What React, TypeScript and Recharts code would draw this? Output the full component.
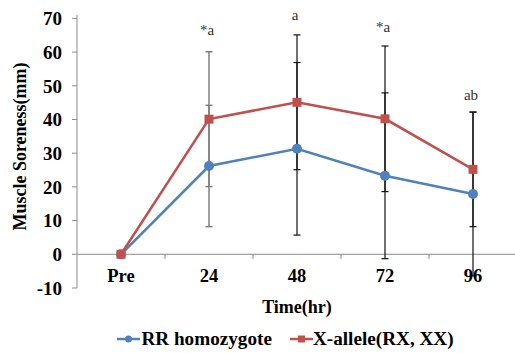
import React from "react";
import {
  LineChart,
  Line,
  XAxis,
  YAxis,
  ErrorBar,
  ReferenceLine,
  Legend,
  LabelList,
} from "recharts";

const categories = ["Pre", "24", "48", "72", "96"];
const rrValues = [0, 26.2, 31.3, 23.3, 17.9];
const xaValues = [0, 40.1, 45.1, 40.2, 25.2];
const rrErrors = [0, 18, 25.6, 24.6, 24.3];
const xaErrors = [0, 20, 20, 21.6, 17];
const grayErrorIndex = [false, true, false, false, false];
const annotations = ["", "*a", "a", "*a", "ab"];
const annotationLevels = [null, 66.6, 71, 67.4, 47.4];
const yTicks = [-10, 0, 10, 20, 30, 40, 50, 60, 70];

const BLUE = "#4F81BD";
const RED = "#C0504D";
const FONT = "'Liberation Serif', 'Times New Roman', serif";

const PLOT_TOP = 15;
const PLOT_H = 273;
const Y_MIN = -10;
const Y_MAX = 70;

const data = categories.map((c, i) => ({
  cat: c,
  rr: rrValues[i],
  xa: xaValues[i],
  rrErrBlack: grayErrorIndex[i] ? null : rrErrors[i] || null,
  rrErrGray: grayErrorIndex[i] ? rrErrors[i] : null,
  xaErrBlack: grayErrorIndex[i] ? null : xaErrors[i] || null,
  xaErrGray: grayErrorIndex[i] ? xaErrors[i] : null,
  anno: annotations[i],
  annoPos: annotationLevels[i],
}));

const yZero = PLOT_TOP + (PLOT_H * (Y_MAX - 0)) / (Y_MAX - Y_MIN);

const XTick = (props: any) => {
  const { x, y, payload, index } = props;
  const off = payload && payload.offset ? payload.offset : 0;
  return (
    <g>
      <text
        x={x}
        y={y - 6}
        textAnchor="middle"
        fontFamily={FONT}
        fontWeight="bold"
        fontSize={18.5}
        fill="#000"
      >
        {payload.value}
      </text>
      {index < categories.length - 1 && (
        <line x1={x + off} x2={x + off} y1={yZero} y2={yZero + 5} stroke="#8c8c8c" strokeWidth={1} />
      )}
    </g>
  );
};

const SquareDot = (props: any) => {
  const { cx, cy } = props;
  if (cx == null || cy == null) return null;
  return <rect x={cx - 4.5} y={cy - 4.5} width={9} height={9} fill={RED} />;
};

const CircleDot = (props: any) => {
  const { cx, cy } = props;
  if (cx == null || cy == null) return null;
  return <circle cx={cx} cy={cy} r={5} fill={BLUE} />;
};

const AnnoLabel = (props: any) => {
  const { x, y, value } = props;
  if (!value || y == null) return null;
  return (
    <text
      x={x - 2}
      y={y}
      textAnchor="middle"
      dominantBaseline="central"
      fontFamily={FONT}
      fontSize={15}
      fill="#333"
    >
      {value}
    </text>
  );
};

const LegendContent = () => (
  <div
    style={{
      display: "flex",
      justifyContent: "center",
      alignItems: "center",
      fontFamily: FONT,
      fontWeight: "bold",
      fontSize: 19.2,
      color: "#000",
      whiteSpace: "nowrap",
    }}
  >
    <svg width={23} height={12} style={{ marginRight: 1 }}>
      <line x1={0} x2={23} y1={6} y2={6} stroke={BLUE} strokeWidth={2.5} />
      <circle cx={11.5} cy={6} r={3.5} fill={BLUE} />
    </svg>
    <span>RR homozygote</span>
    <svg width={23} height={12} style={{ marginLeft: 18, marginRight: 0 }}>
      <line x1={0} x2={23} y1={6} y2={6} stroke={RED} strokeWidth={2.5} />
      <rect x={8} y={2.5} width={7} height={7} fill={RED} />
    </svg>
    <span>X-allele(RX, XX)</span>
  </div>
);

const YTitle = (props: any) => {
  const vb = props.viewBox || {};
  const cx = 20;
  const cy = (vb.y || 0) + (vb.height || 0) / 2 - 5;
  return (
    <text
      x={cx}
      y={cy}
      transform={`rotate(-90, ${cx}, ${cy})`}
      textAnchor="middle"
      dominantBaseline="central"
      fontFamily={FONT}
      fontWeight="bold"
      fontSize={18}
      fill="#000"
    >
      Muscle Soreness(mm)
    </text>
  );
};

const XTitle = (props: any) => {
  const vb = props.viewBox || {};
  const cx = (vb.x || 0) + (vb.width || 0) / 2;
  return (
    <text
      x={cx}
      y={307}
      textAnchor="middle"
      dominantBaseline="central"
      fontFamily={FONT}
      fontWeight="bold"
      fontSize={18}
      fill="#000"
    >
      Time(hr)
    </text>
  );
};

export default function App() {
  return (
    <div
      style={{
        position: "absolute",
        left: 0,
        top: 0,
        width: 515,
        height: 353,
        overflow: "hidden",
        background: "#fff",
      }}
    >
      <LineChart
        width={519}
        height={353}
        data={data}
        margin={{ top: PLOT_TOP, right: 2, left: 0, bottom: 25 }}
      >
        <ReferenceLine y={0} stroke="#8c8c8c" strokeWidth={1} />
        <XAxis
          dataKey="cat"
          scale="band"
          height={40}
          axisLine={false}
          tickLine={false}
          tickSize={0}
          tickMargin={0}
          tick={<XTick />}
          interval={0}
          label={<XTitle />}
        />
        <YAxis
          width={77}
          domain={[Y_MIN, Y_MAX]}
          ticks={yTicks}
          interval={0}
          axisLine={{ stroke: "#8c8c8c" }}
          tickLine={{ stroke: "#8c8c8c" }}
          tickSize={5}
          tickMargin={10}
          tick={{ fontFamily: FONT, fontWeight: "bold", fontSize: 19, fill: "#000" }}
          label={<YTitle />}
        />
        <Line
          dataKey="rr"
          stroke={BLUE}
          strokeWidth={2.5}
          dot={<CircleDot />}
          activeDot={false}
          isAnimationActive={false}
          name="RR homozygote"
        >
          <ErrorBar dataKey="rrErrBlack" width={3.5} stroke="#111" strokeWidth={1.2} direction="y" />
          <ErrorBar dataKey="rrErrGray" width={3.5} stroke="#7f7f7f" strokeWidth={1.5} direction="y" />
        </Line>
        <Line
          dataKey="xa"
          stroke={RED}
          strokeWidth={2.5}
          dot={<SquareDot />}
          activeDot={false}
          isAnimationActive={false}
          name="X-allele(RX, XX)"
        >
          <ErrorBar dataKey="xaErrBlack" width={3.5} stroke="#111" strokeWidth={1.2} direction="y" />
          <ErrorBar dataKey="xaErrGray" width={3.5} stroke="#7f7f7f" strokeWidth={1.5} direction="y" />
        </Line>
        <Line
          dataKey="annoPos"
          stroke="none"
          dot={false}
          activeDot={false}
          isAnimationActive={false}
          legendType="none"
        >
          <LabelList dataKey="anno" content={<AnnoLabel />} />
        </Line>
        <Legend
          layout="horizontal"
          verticalAlign="middle"
          align="center"
          wrapperStyle={{ top: 328, left: 28, width: 515 }}
          content={<LegendContent />}
        />
      </LineChart>
    </div>
  );
}
